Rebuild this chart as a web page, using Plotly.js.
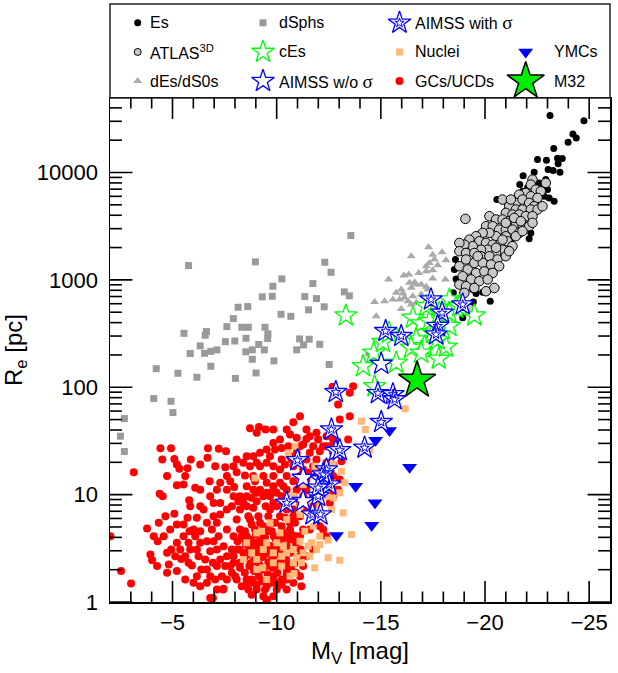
<!DOCTYPE html>
<html><head><meta charset="utf-8">
<script src="https://cdn.plot.ly/plotly-3.0.1.min.js"></script>
<style>html,body{margin:0;padding:0;background:#fff}</style>
</head><body><div id="chart" style="width:618px;height:673px"></div>
<script>
// ---------- DATA (M_V in mag, R_e in pc) ----------
const dsph_mv = [-13.56,-5.77,-8.98,-12.31,-12.61,-10.25,-9.82,-11.74,-13.25,-13.49,-9.31,-9.79,-11.35,-11.91,-8.15,-8.61,-11.53,-12.28,-10.21,-10.68,-7.92,-7.61,-8.33,-8.64,-9.44,-5.55,-6.63,-6.57,-9.58,-9.57,-8.53,-7.54,-7.99,-11.10,-11.56,-12.07,-6.33,-9.14,-5.85,-6.54,-6.84,-7.13,-8.52,-8.83,-9.41,-10.96,-11.29,-8.83,-9.87,-4.22,-5.26,-6.17,-6.84,-8.02,-9.01,-12.52,-4.10,-4.93,-5.02,-2.69,-2.50,-2.69,-14.43];
const dsph_re = [2585,1359,1471,1459,1177,1022,872,924,773,710,695,703,699,670,556,564,526,561,478,458,436,367,362,362,362,318,330,305,314,284,286,266,270,282,280,251,243,250,206,207,216,223,214,223,223,223,248,182,176,149,135,124,157,121,136,163,78.5,74,58.1,51.1,35.0,25.2,209];

const dE_mv = [-17.29,-16.46,-17.49,-17.94,-18.13,-17.57,-17.33,-17.18,-15.37,-16.11,-16.34,-16.82,-17.18,-17.49,-17.73,-18.10,-17.49,-15.74,-15.98,-16.06,-16.46,-16.70,-16.94,-17.18,-16.54,-16.38,-16.62,-15.58,-15.90,-16.14,-16.30,-14.70,-15.18,-16.46,-15.98,-16.70,-16.94,-17.25,-14.78,-17.33];
const dE_re = [2013,1660,1710,1807,1523,1545,1439,1339,1007,1097,1120,1162,1203,1228,1368,1007,1028,757,812,745,843,904,904,861,704,938,950,656,656,680,632,624,632,589,537,611,730,812,458,670];

const es_mv = [-23.12,-24.75,-24.22,-24.38,-23.99,-23.30,-22.52,-22.95,-23.48,-23.71,-23.51,-23.03,-23.27,-23.60,-21.83,-22.36,-22.92,-22.60,-22.73,-23.00,-21.80,-21.56,-20.57,-23.32,-22.84,-22.12,-21.24,-18.58,-18.53,-18.61,-18.48,-19.01,-19.41,-19.57,-19.44,-19.89,-20.25,-17.14,-18.93,-19.28,-18.29,-22.04,-22.44,-21.88,-23.08,-21.00,-22.20,-21.67];
const es_re = [33900,30400,22900,21000,19100,16700,13200,13000,13600,13500,12100,10640,10420,10050,9350,10050,8590,8000,7720,6930,6680,6010,5600,5400,6010,2410,2290,1550,1250,1020,757,784,813,746,624,767,632,589,443,530,521,7200,7720,5600,5800,5400,2740,7720];

const atlas_mv = [-22.28,-22.20,-22.44,-22.68,-21.96,-21.64,-22.20,-22.52,-22.92,-21.48,-21.80,-22.12,-22.36,-21.16,-20.84,-21.48,-21.80,-22.20,-22.52,-22.76,-21.00,-21.32,-21.64,-21.96,-22.28,-20.21,-20.53,-20.84,-21.16,-21.48,-21.80,-22.12,-22.28,-19.06,-20.05,-20.37,-20.68,-21.00,-21.32,-21.64,-21.48,-21.00,-20.53,-20.21,-19.89,-19.57,-19.25,-19.73,-20.05,-20.37,-20.76,-21.08,-21.32,-20.84,-20.53,-20.13,-19.81,-19.41,-19.01,-18.77,-18.77,-19.09,-19.49,-19.81,-20.21,-20.60,-21.00,-21.16,-19.09,-19.49,-19.89,-20.29,-20.68,-18.77,-19.17,-19.57,-19.97,-20.37,-18.93,-19.33,-19.73,-20.13,-18.77,-19.09,-19.49,-20.05,-20.45,-19.01,-19.65,-20.53,-20.84,-21.00,-21.80,-21.24,-21.40,-21.72,-19.25];
const atlas_re = [8590,7720,6930,6680,6450,6220,6010,5800,8000,5210,5600,5210,4850,4850,5600,4520,4520,4520,4520,4850,4210,4060,4060,3920,3920,3920,3650,3650,3520,3400,3270,3160,3400,3700,3160,3160,2940,2940,2940,2740,2550,2550,2550,2740,2740,2550,2370,2290,2210,2130,2210,2290,2060,1910,1780,1910,1910,2060,2130,2210,1850,1780,1780,1660,1660,1550,1660,1850,1550,1440,1440,1390,1340,1340,1250,1160,1200,1160,1080,1010,973,1010,904,873,841,784,841,757,1660,1990,2370,3400,2840,5600,3780,3520,537];

const gc_mv = [-3.14,-4.42,-4.93,-4.51,-5.21,-4.74,-4.38,-4.53,-5.80,-5.09,-5.33,-5.72,-5.88,-6.33,-6.70,-7.22,-7.57,-6.68,-7.05,-7.53,-8.08,-8.48,-7.96,-8.56,-8.96,-8.91,-7.77,-6.78,-6.33,-6.09,-5.61,-5.21,-5.53,-3.78,-4.29,-3.94,-4.02,-4.82,-5.42,-4.94,-5.21,-2.53,-3.01,-2.02,-5.93,-6.33,-6.81,-7.45,-7.05,-5.82,-5.53,-5.09,-5.21,-5.72,-6.17,-6.33,-6.65,-6.25,-6.94,-6.38,-5.77,-6.49,-6.97,-7.29,-6.81,-6.33,-5.85,-7.93,-8.24,-8.56,-8.08,-8.88,-9.36,-9.04,-9.20,-9.84,-9.47,-9.68,-10.00,-8.72,-8.24,-7.61,-7.45,-7.13,-7.85,-7.93,-8.01,-8.64,-8.88,-8.56,-7.61,-7.77,-7.29,-9.52,-9.04,-9.44,-10.00,-10.48,-11.12,-11.19,-10.48,-10.16,-10.00,-8.72,-9.15,-9.84,-9.47,-9.04,-10.80,-11.12,-10.64,-10.96,-11.43,-11.99,-11.27,-11.75,-10.56,-10.24,-9.92,-9.68,-9.52,-9.84,-10.24,-10.64,-10.96,-11.59,-12.07,-12.39,-12.71,-13.03,-12.95,-13.67,-13.51,-12.87,-12.39,-12.71,-11.75,-11.51,-11.12,-10.80,-10.32,-9.84,-9.52,-9.36,-8.88,-10.80,-11.12,-11.43,-12.07,-12.07,-11.75,-11.12,-10.64,-10.16,-9.76,-9.52,-9.36,-9.04,-8.56,-8.72,-9.04,-9.20,-9.68,-9.84,-10.24,-10.64,-10.80,-11.12,-11.59,-12.07,-11.59,-12.71,-12.55,-12.71,-13.43,-13.11,-13.51,-13.03,-12.71,-11.43,-12.55,-12.39,-11.75,-12.71,-12.23,-11.27,-11.43,-10.48,-10.16,-9.68,-9.28,-8.40,-8.24,-7.93,-8.08,-9.20,
-8.12,-8.32,-8.53,-8.75,-9.01,-9.20,-9.44,-9.65,-9.87,-10.08,-10.29,-10.48,-10.72,-10.92,-11.15,-8.21,-8.44,-8.66,-8.88,-9.11,-9.33,-9.55,-9.78,-10.00,-10.22,-10.45,-10.67,-10.89,-8.24,-8.47,-8.69,-8.91,-9.14,-9.36,-9.58,-9.81,-10.03,-10.25,-10.48,-10.70,-10.92,-8.56,-8.80,-9.04,-9.28,-9.52,-9.76,-10.00,-10.24,-8.96,-9.36,-9.76,-10.24,-10.64,-10.96,-11.12,-11.27,-10.80,-10.48,-9.84,-9.36,-8.80,-8.32,-8.08,-7.93,-7.61,-7.53,-7.85,-8.48,-8.80,-9.92,-10.40,-9.12,-8.64,-9.60,-10.88,-9.84,-10.32,-10.48,-10.80,-10.24,-9.68,-9.04,-8.80,-8.40,-8.16,-7.85,-7.61,-7.29,-7.13,-6.89,-6.65,-6.97,-7.21,-6.97,-6.81,-6.57,-7.13,-7.37,-6.81,-6.65,-6.33,-6.17,-6.09,-5.85,-5.53,-5.37,-5.13,-4.74,-4.58,-4.89,-4.66,-4.34,-4.10,-4.26,-4.74,-5.21,-5.61,-6.01,-6.17,-6.65,-7.13,-5.61,-6.01,-5.77,
-10.16,-10.48,-10.80,-11.12,-11.43,-11.91,-10.48,-10.96,-11.27,-11.75,-12.23,-11.91,-11.12,-10.00,-10.48,-11.43,-11.91,-10.80,-12.71,-12.55,-12.95,-12.07,-11.27,-10.72,-10.40,-11.12,-12.23,-11.59,-11.91,-12.39,-10.16,-10.48,-11.43,-9.84,-9.52,-9.20,-8.88,-9.04,-9.20,-8.72,-8.40,-8.56,-8.08,-7.93,-7.61,-7.29,-7.13,-7.61,-8.24,-8.56,-8.88,-9.52,-10.16,-9.84,-6.94,-9.52,-7.43,-12.68,
-8.90,-9.30,-9.70,-10.10,-8.60,-9.00,-9.45,-9.85,-10.30,-8.75,-9.15,-9.60,-10.05,-10.50,-8.35,-8.65,-9.95,-10.35];
const gc_re = [16.2,27.0,27.0,21.2,19.1,14.9,10.2,9.66,8.87,21.5,17.4,17.6,21.2,19.1,27.0,26.7,25.4,22.0,18.4,18.0,16.2,15.1,11.8,12.0,13.3,14.3,13.3,13.3,11.1,11.6,14.9,12.2,12.4,4.83,3.68,2.77,2.45,2.24,2.52,3.08,3.56,1.94,1.49,4.10,2.19,1.40,1.09,1.33,1.62,4.56,5.27,6.62,5.27,6.08,6.08,4.56,3.68,2.67,2.32,2.01,3.56,7.26,8.37,8.37,9.66,7.80,7.80,9.66,7.26,7.80,5.86,7.53,9.66,10.4,11.1,11.1,7.80,7.26,7.80,5.86,4.73,4.73,3.31,3.08,3.08,2.32,1.74,1.31,1.51,1.62,1.62,2.16,2.49,1.05,1.31,1.31,1.51,1.62,1.74,1.40,2.01,2.32,2.87,41.5,42.7,40.4,40.4,37.6,47.2,53.7,36.3,33.8,33.0,32.6,29.3,28.2,28.2,27.2,26.3,22.8,19.8,18.4,21.2,22.8,24.5,24.5,25.4,28.2,32.6,50.0,69.0,102,88.7,30.3,19.8,19.1,18.4,16.0,14.9,13.3,12.0,14.9,12.9,14.9,14.9,9.66,8.37,11.1,11.1,8.37,7.80,6.30,5.46,6.30,5.46,4.73,4.10,3.56,4.10,3.08,2.67,2.16,2.16,1.74,3.31,3.82,3.08,4.10,4.73,5.08,6.76,24.5,28.2,37.6,32.6,20.5,53.7,13.8,11.1,13.8,8.37,4.10,3.08,14.9,4.73,4.73,2.67,4.10,4.10,3.31,2.87,2.87,2.32,4.10,3.08,5.46,
3.68,4.10,3.43,3.82,4.25,3.68,3.96,4.56,4.10,3.68,4.47,3.31,4.25,3.56,3.08,3.08,2.58,2.87,2.40,3.08,2.63,2.97,2.52,3.19,2.77,2.49,2.87,2.32,2.08,1.87,2.16,1.94,1.74,2.01,1.80,2.08,1.87,1.62,1.80,2.01,1.87,1.51,1.62,1.45,1.56,1.40,1.51,1.31,1.45,4.73,5.08,4.56,5.08,4.73,4.10,2.67,2.16,1.51,1.31,1.13,1.13,1.17,1.40,1.62,2.67,2.67,2.16,1.87,4.56,5.27,5.46,6.08,6.30,6.30,6.30,5.46,8.37,8.37,7.26,7.26,9.66,9.66,8.69,9.33,8.37,8.69,7.80,7.26,6.53,5.46,4.73,5.46,6.30,4.10,3.68,2.97,2.49,2.16,1.74,1.74,2.01,3.56,3.08,4.10,3.08,4.10,3.08,2.67,2.87,4.10,4.73,6.30,5.46,4.10,2.16,1.87,1.94,1.62,1.51,1.74,1.51,1.31,2.67,4.73,2.32,
17.1,14.9,18.4,19.8,21.2,21.2,11.1,11.1,9.66,9.66,12.9,14.9,12.0,10.4,8.37,7.26,6.30,6.30,9.66,12.9,11.1,17.1,17.1,21.2,19.1,28.2,28.2,35.0,37.6,35.0,32.6,40.4,40.4,30.3,26.3,24.5,22.8,19.8,18.4,18.4,19.8,22.8,21.2,18.4,14.9,12.9,11.1,11.1,9.66,9.66,11.1,10.4,12.9,12.0,1.09,1.02,1.31,101,
3.35,3.50,3.30,3.45,2.75,2.70,2.80,2.65,2.70,2.30,2.25,2.35,2.20,2.30,3.90,3.30,3.85,3.95];

const nuc_mv = [-14.07,-14.26,-14.46,-13.27,-13.11,-12.71,-13.19,-13.59,-13.03,-12.47,-12.47,-11.83,-10.84,-10.80,-11.19,-10.96,-11.27,-11.51,-11.67,-11.91,-12.07,-11.35,-11.12,-10.48,-10.16,-10.32,-10.00,-9.28,-9.36,-9.33,-9.04,-8.56,-8.96,-10.88,-10.56,-11.83,-12.71,-12.39,-12.07,-11.59,-11.12,-11.75,-12.07,-9.84,-10.24,-9.52,-9.04,-9.52,-9.68,-10.80,-11.43,-11.27,-13.03,-12.63,-12.23,-10.48,-10.80,-11.12,-11.59,-10.64,-10.24,-9.04,-9.84,-8.40,-8.80,-16.17];
const nuc_re = [48.3,40.4,26.3,12.9,16.5,9.33,6.76,4.25,2.45,2.58,3.77,2.08,1.84,2.32,2.32,2.58,2.87,3.31,3.56,3.08,3.43,4.56,6.53,5.86,4.40,3.31,3.56,4.56,3.08,2.08,4.40,3.56,14.3,28.2,24.5,18.4,19.1,9.66,7.80,6.30,7.80,5.08,4.10,2.32,2.67,1.62,2.49,3.56,5.46,9.66,8.69,12.4,10.4,7.26,6.08,2.87,3.08,3.68,2.67,1.74,2.16,2.01,2.87,2.49,2.87,63];

const ymc_mv = [-15.42,-14.75,-16.38,-13.79,-14.72,-14.56,-12.87];
const ymc_re = [39.5,32.1,18.0,12.0,8.39,5.19,4.16];

const ce_mv = [-13.32,-14.15,-14.66,-14.70,-15.10,-15.39,-15.74,-16.54,-16.94,-16.70,-17.34,-17.10,-17.78,-18.13,-17.73,-18.29,-18.61,-19.49,-17.97,-17.49,-18.29,-16.46,-16.94,-18.29,-18.77,-17.18,-17.81];
const ce_re = [466,157,209,102,263,321,169,443,392,278,412,241,184,238,278,656,548,466,344,321,371,233,209,493,569,569,493];

const aimss_sig_mv = [-17.41,-18.93,-17.94,-17.73,-17.65,-15.23,-15.98,-14.86,-15.58,-12.84,-15.66,-12.63,-13.03,-14.22,-15.02,-11.00,-12.39,-12.15,-12.52,-11.99,-10.48,-11.72,-12.10,-12.23,-11.99];
const aimss_sig_re = [656,589,493,371,310,333,299,88,86,90,77,40.4,25.9,27.3,47.3,20.9,17.1,13.8,12.4,9.68,8.39,6.53,6.53,15.4,11.6];
const aimss_nosig_mv = [-15.02,-12.84,-11.27,-11.27];
const aimss_nosig_re = [165,25.5,8.69,14.3];

const m32_mv = [-16.74];
const m32_re = [116];

// axis ranges and tick values
const xRange = [-2, -26];
const yRangeLog = [0, 4.694];
const xMajorTicks = [-5,-10,-15,-20,-25];
const xMinorTicks = [-3,-4,-6,-7,-8,-9,-11,-12,-13,-14,-16,-17,-18,-19,-21,-22,-23,-24];
const yMajorTicks = [1,10,100,1000,10000];
const yTickText = ['1\u00a0','10\u00a0','100\u00a0','1000\u00a0','10000\u00a0'];
const yMinorTicks = [2,3,4,5,6,7,8,9,20,30,40,50,60,70,80,90,200,300,400,500,600,700,800,900,2000,3000,4000,5000,6000,7000,8000,9000,20000,30000,40000];

// ---------- STYLES ----------
const ST = {
  dsph:  {symbol:'square', size:7, color:'#9a9a9a'},
  dE:    {symbol:'triangle-up', size:8, color:'#aaaaaa'},
  es:    {symbol:'circle', size:7, color:'#000000'},
  atlas: {symbol:'circle', size:9.5, color:'#c8c8c8', line:{color:'#000', width:1}},
  gc:    {symbol:'circle', size:8, color:'#ff0000'},
  nuc:   {symbol:'square', size:7, color:'#ffb877'},
  ymc:   {symbol:'triangle-down', size:13, color:'#0000ff'},
  ce:    {symbol:'star', size:17, color:'#ffffff', line:{color:'#00ff00', width:1.3}},
  aim:   {symbol:'star', size:17, color:'#ffffff', line:{color:'#0000ff', width:1.3}},
  aimIn: {symbol:'star-open', size:7, color:'#0000ff', line:{color:'#0000ff', width:1}},
  m32:   {symbol:'star', size:28, color:'#00ee00', line:{color:'#000', width:1.5}}
};
function mk(s, sizeOverride){
  return {symbol:s.symbol, size: sizeOverride || s.size, color:s.color,
          line: s.line ? s.line : {width:0}};
}
const traces = [];
function addMain(x, y, s){
  traces.push({type:'scatter', mode:'markers', x:x, y:y, marker:mk(s), hoverinfo:'skip', showlegend:false});
}
addMain(dsph_mv, dsph_re, ST.dsph);
addMain(dE_mv, dE_re, ST.dE);
addMain(es_mv, es_re, ST.es);
addMain(atlas_mv, atlas_re, ST.atlas);
addMain(gc_mv, gc_re, ST.gc);
addMain(nuc_mv, nuc_re, ST.nuc);
addMain(ymc_mv, ymc_re, ST.ymc);
addMain(ce_mv, ce_re, ST.ce);
addMain(aimss_nosig_mv, aimss_nosig_re, ST.aim);
addMain(aimss_sig_mv, aimss_sig_re, ST.aim);
addMain(aimss_sig_mv, aimss_sig_re, ST.aimIn);
addMain(m32_mv, m32_re, ST.m32);

// ---------- Inside tick marks on all four sides ----------
// Each tick is a line marker centred on the frame edge; the half outside the
// plot area is clipped away, leaving an inside tick of half the marker size.
const yBottom = Math.pow(10, yRangeLog[0]), yTopVal = Math.pow(10, yRangeLog[1]);
function tickTrace(x, y, symbol, size){
  traces.push({type:'scatter', mode:'markers', x:x, y:y, cliponaxis:true, hoverinfo:'skip', showlegend:false,
    marker:{symbol:symbol, size:size, color:'#000', line:{color:'#000', width:1.6}}});
}
function xTicks(vals, size){
  tickTrace(vals.concat(vals), vals.map(() => yBottom).concat(vals.map(() => yTopVal)), 'line-ns', size);
}
function yTicks(vals, size){
  tickTrace(vals.map(() => xRange[0]).concat(vals.map(() => xRange[1])), vals.concat(vals), 'line-ew', size);
}
xTicks(xMajorTicks, 30);
xTicks(xMinorTicks, 15);
yTicks(yMajorTicks, 32);
yTicks(yMinorTicks, 17);

// ---------- LEGEND (manual; legend box is its own subplot above the plot) ----------
const plotTop = 504/598;
const colSym = [0.0554, 0.306, 0.579, 0.8314];
const colTxt = [0.076, 0.334, 0.6054, 0.8834];
const rowY = [0.80, 0.49, 0.18];          // fractions of the legend box height
const sigma = '<span style="font-family:Liberation Serif;font-size:19px">σ</span>';
const legendItems = [
  {c:0, r:0, t:'Es', st:[ST.es]},
  {c:0, r:1, t:'ATLAS<sup>3D</sup>', st:[ST.atlas], sz:[7]},
  {c:0, r:2, t:'dEs/dS0s', st:[ST.dE]},
  {c:1, r:0, t:'dSphs', st:[ST.dsph]},
  {c:1, r:1, t:'cEs', st:[ST.ce]},
  {c:1, r:2, t:'AIMSS w/o '+sigma, st:[ST.aim]},
  {c:2, r:0, t:'AIMSS with '+sigma, st:[ST.aim, ST.aimIn]},
  {c:2, r:1, t:'Nuclei', st:[ST.nuc]},
  {c:2, r:2, t:'GCs/UCDs', st:[ST.gc]},
  {c:3, r:1, t:'YMCs', st:[ST.ymc]},
  {c:3, r:2, t:'M32', st:[ST.m32]}
];
const annotations = [];
legendItems.forEach(it => {
  it.st.forEach((s, k) => {
    traces.push({type:'scatter', mode:'markers', x:[colSym[it.c]], y:[rowY[it.r]],
      xaxis:'x2', yaxis:'y2', marker:mk(s, it.sz ? it.sz[k] : null), hoverinfo:'skip',
      showlegend:false, cliponaxis:false});
  });
  annotations.push({xref:'x2', yref:'y2', x:colTxt[it.c], y:rowY[it.r], text:it.t,
    xanchor:'left', yanchor:'middle', showarrow:false, font:{size:16, color:'#000'}});
});

const layout = {
  width:618, height:673,
  margin:{l:110, r:8, t:4, b:71},
  paper_bgcolor:'#ffffff', plot_bgcolor:'#ffffff',
  font:{family:'Liberation Sans, Arial, sans-serif', color:'#000', size:20},
  showlegend:false,
  xaxis:{range:xRange, autorange:false, domain:[0,1], tickmode:'array', tickvals:xMajorTicks,
    ticks:'', showline:true, linecolor:'#000', linewidth:1.5, mirror:true,
    showgrid:false, zeroline:false, tickfont:{size:22},
    title:{text:'M<sub>V</sub> [mag]', font:{size:24}, standoff:8}},
  yaxis:{type:'log', range:yRangeLog, autorange:false, domain:[0,plotTop],
    tickmode:'array', tickvals:yMajorTicks, ticktext:yTickText,
    ticks:'', showline:true, linecolor:'#000', linewidth:1.5, mirror:true,
    showgrid:false, zeroline:false, tickfont:{size:22},
    title:{text:'R<sub>e</sub> [pc]', font:{size:24}, standoff:8}},
  xaxis2:{domain:[0,1], range:[0,1], anchor:'y2', visible:false, fixedrange:true},
  yaxis2:{domain:[plotTop,1], range:[0,1], anchor:'x2', visible:false, fixedrange:true},
  shapes:[{type:'rect', xref:'paper', yref:'paper', x0:0, x1:1, y0:plotTop, y1:1,
    line:{color:'#222', width:1.5}, fillcolor:'rgba(0,0,0,0)'}],
  annotations: annotations
};
Plotly.newPlot('chart', traces, layout, {staticPlot:true, displayModeBar:false});
</script>
</body></html>
